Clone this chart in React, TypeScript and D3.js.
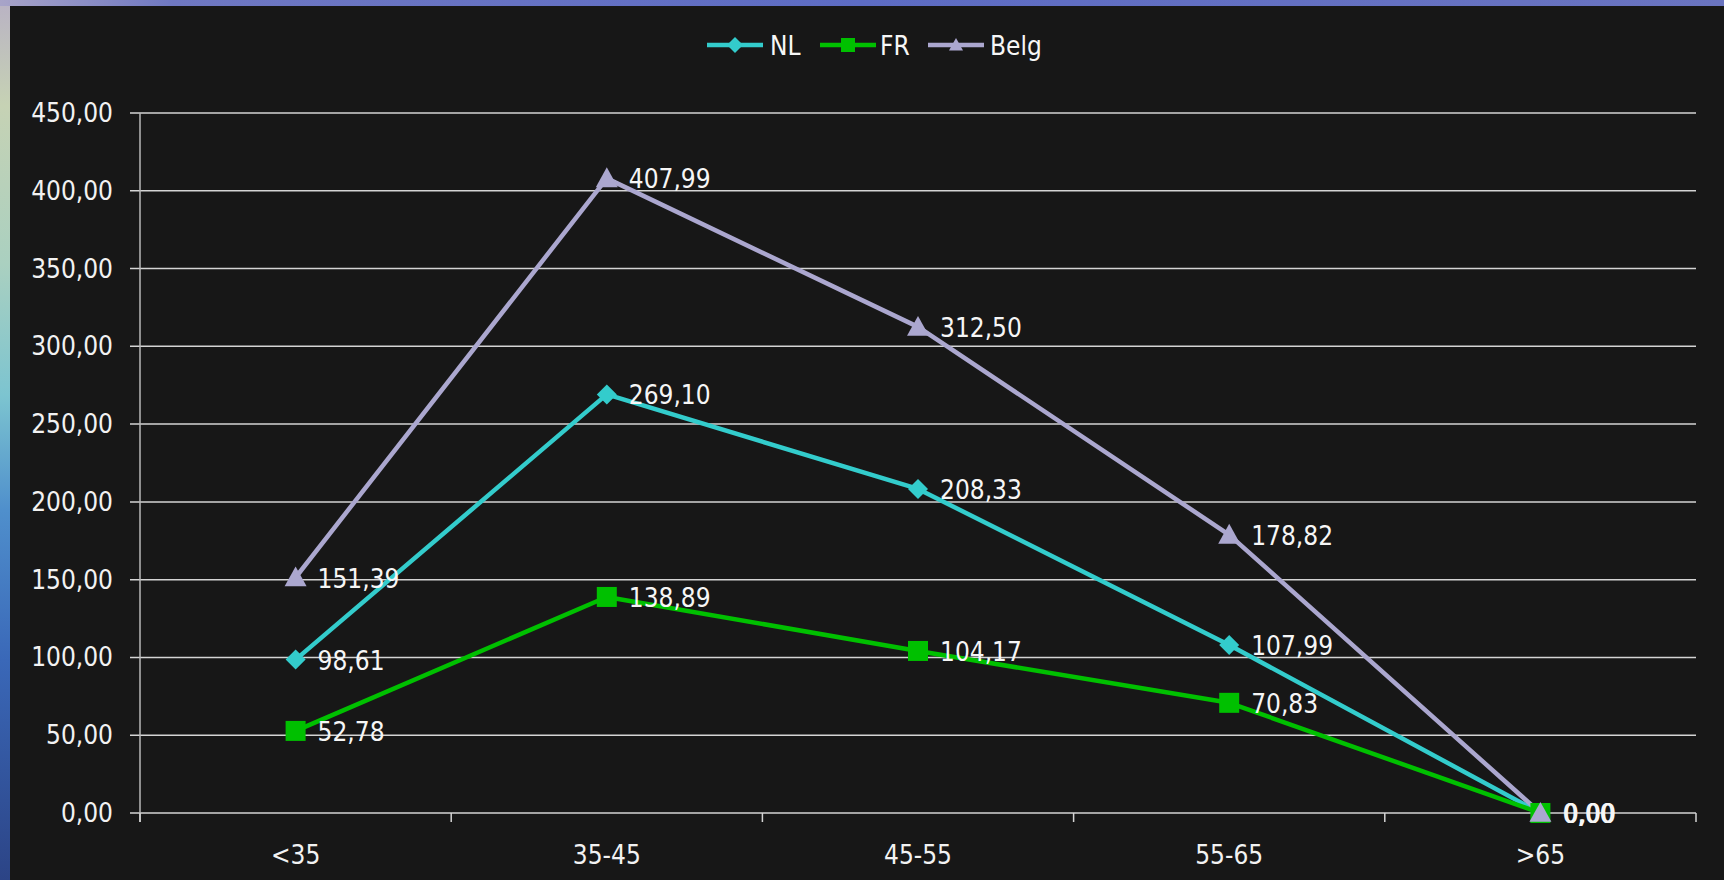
import React from "react";
import * as d3 from "d3";

const categories = ["<35", "35-45", "45-55", "55-65", ">65"];
const nlValues = [98.61, 269.1, 208.33, 107.99, 0];
const frValues = [52.78, 138.89, 104.17, 70.83, 0];
const belgValues = [151.39, 407.99, 312.5, 178.82, 0];
const yTicks = [0, 50, 100, 150, 200, 250, 300, 350, 400, 450];

const seriesList = [
  { name: "NL", values: nlValues, color: "#33CCCC", marker: "diamond" },
  { name: "FR", values: frValues, color: "#00C000", marker: "square" },
  { name: "Belg", values: belgValues, color: "#ABA7CF", marker: "triangle" },
];

const W = 1724;
const H = 880;
const FONT = '"DejaVu Sans Condensed", "DejaVu Sans", sans-serif';
const fmt = (v: number) => d3.format(".2f")(v).replace(".", ",");

function Marker({ type, x, y, size, color }: { type: string; x: number; y: number; size: number; color: string }) {
  if (type === "square") {
    return <rect x={x - size / 2} y={y - size / 2} width={size} height={size} fill={color} />;
  }
  if (type === "diamond") {
    const r = size / 2;
    return <path d={`M${x},${y - r}L${x + r},${y}L${x},${y + r}L${x - r},${y}Z`} fill={color} />;
  }
  const r = size / 2;
  return <path d={`M${x},${y - r}L${x + r},${y + r * 0.8}L${x - r},${y + r * 0.8}Z`} fill={color} />;
}

export default function App() {
  const x = d3.scaleBand<string>().domain(categories).range([140, 1696]);
  const y = d3.scaleLinear().domain([0, 450]).range([813, 113]);
  const cx = (c: string) => (x(c) ?? 0) + x.bandwidth() / 2;
  const line = d3
    .line<number>()
    .x((_, i) => cx(categories[i]))
    .y((d) => y(d));

  const legendItems = [
    { lx: 707, tx: 770 },
    { lx: 820, tx: 880 },
    { lx: 928, tx: 990 },
  ];

  const bounds = [...categories.map((c) => x(c) ?? 0), 1696];

  return (
    <div style={{ position: "fixed", left: 0, top: 0, width: W, height: H }}>
      <svg width={W} height={H} style={{ display: "block" }}>
        <defs>
          <linearGradient id="leftStrip" x1="0" y1="0" x2="0" y2="1">
            <stop offset="0" stopColor="#b9b2c4" />
            <stop offset="0.12" stopColor="#c6d2b4" />
            <stop offset="0.3" stopColor="#aad0c0" />
            <stop offset="0.45" stopColor="#7cc4d0" />
            <stop offset="0.58" stopColor="#4f8fcc" />
            <stop offset="0.75" stopColor="#3a68b8" />
            <stop offset="1" stopColor="#2c4486" />
          </linearGradient>
          <linearGradient id="topStrip" x1="0" y1="0" x2="1" y2="0">
            <stop offset="0" stopColor="#a8a4c8" />
            <stop offset="0.1" stopColor="#6f78c2" />
            <stop offset="0.5" stopColor="#5d6cc4" />
            <stop offset="1" stopColor="#6a74c0" />
          </linearGradient>
        </defs>
        <rect x={0} y={0} width={W} height={H} fill="url(#leftStrip)" />
        <rect x={0} y={0} width={W} height={6} fill="url(#topStrip)" />
        <rect x={10} y={6} width={W - 10} height={H - 6} fill="#171717" />

        {/* gridlines and y ticks */}
        {yTicks.map((t) => (
          <g key={t}>
            <line x1={130} x2={1696} y1={y(t)} y2={y(t)} stroke="#d4d4d4" strokeWidth={1.5} />
            <text
              x={113}
              y={y(t)}
              textAnchor="end"
              dominantBaseline="central"
              fill="#f2f2f2"
              fontFamily={FONT}
              fontSize={26}
            >
              {fmt(t)}
            </text>
          </g>
        ))}
        <line x1={140} x2={140} y1={113} y2={822} stroke="#b8b8b8" strokeWidth={1.5} />
        {bounds.map((b, i) => (
          <line key={i} x1={b} x2={b} y1={813} y2={822} stroke="#d4d4d4" strokeWidth={1.5} />
        ))}
        {categories.map((c) => (
          <text
            key={c}
            x={cx(c)}
            y={855}
            textAnchor="middle"
            dominantBaseline="central"
            fill="#f2f2f2"
            fontFamily={FONT}
            fontSize={26}
          >
            {c}
          </text>
        ))}

        {/* series lines */}
        {seriesList.map((s) => (
          <path key={s.name} d={line(s.values) ?? ""} fill="none" stroke={s.color} strokeWidth={4.5} strokeLinejoin="round" />
        ))}
        {seriesList.map((s) =>
          s.values.map((v, i) => (
            <Marker
              key={s.name + i}
              type={s.marker}
              x={cx(categories[i])}
              y={y(v)}
              size={s.marker === "diamond" ? 20 : s.marker === "triangle" ? 22 : 20}
              color={s.color}
            />
          ))
        )}
        {seriesList.map((s) =>
          s.values.map((v, i) => (
            <text
              key={s.name + "l" + i}
              x={cx(categories[i]) + 22 + (i === 4 ? seriesList.indexOf(s) * 0.8 : 0)}
              y={y(v) + 1}
              dominantBaseline="central"
              fill="#f6f6f6"
              fontFamily={FONT}
              fontSize={26}
            >
              {fmt(v)}
            </text>
          ))
        )}

        {/* legend */}
        {seriesList.map((s, i) => (
          <g key={s.name}>
            <line x1={legendItems[i].lx} x2={legendItems[i].lx + 56} y1={45} y2={45} stroke={s.color} strokeWidth={4.5} />
            <Marker type={s.marker} x={legendItems[i].lx + 28} y={45} size={s.marker === "diamond" ? 16 : 14} color={s.color} />
            <text
              x={legendItems[i].tx}
              y={46}
              dominantBaseline="central"
              fill="#f6f6f6"
              fontFamily={FONT}
              fontSize={26}
            >
              {s.name}
            </text>
          </g>
        ))}
      </svg>
    </div>
  );
}
